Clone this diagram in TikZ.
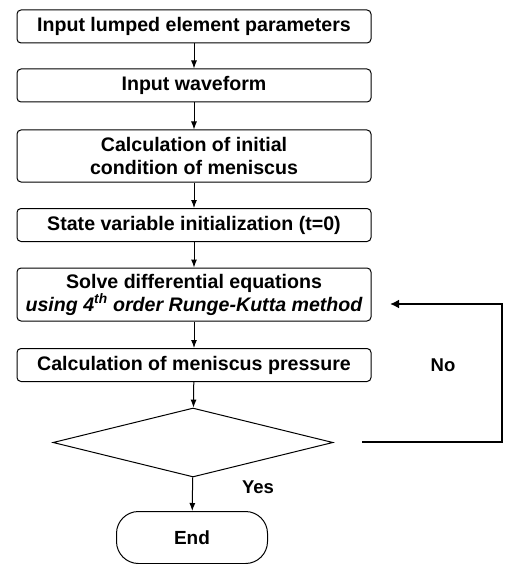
\documentclass[tikz,border=0pt]{standalone}
\usepackage{fontspec}
\setmainfont{Liberation Sans}
\usetikzlibrary{shapes.geometric,arrows.meta}

\tikzset{
  stepbox/.style={draw=black, line width=1pt, rounded corners=4pt,
    minimum width=354pt, minimum height=33pt, align=center, inner sep=0pt,
    font=\fontsize{19.6}{23}\selectfont\bfseries},
  flow/.style={draw=black, line width=1pt, -{Latex[length=8pt,width=6pt]}},
  loopline/.style={draw=black, line width=2.6pt, -{Latex[length=9pt,width=9pt]}},
  lbl/.style={font=\fontsize{18.5}{23}\selectfont\bfseries, inner sep=0pt}
}

\begin{document}
\begin{tikzpicture}[x=1pt, y=-1pt]
  \useasboundingbox (0,0) rectangle (504,564);
  % process boxes
  \node[stepbox] (lumped) at (194,26.5) {Input lumped element parameters};
  \node[stepbox] (wave) at (194,85.5) {Input waveform};
  \node[stepbox, minimum height=52pt] (initcond) at (194,156)
    {Calculation of initial\\condition of meniscus};
  \node[stepbox] (stateinit) at (194,225) {State variable initialization (t=0)};
  \node[stepbox, minimum height=53pt] (solve) at (194,294.5)
    {Solve differential equations\\\itshape using 4\textsuperscript{th} order Runge-Kutta method};
  \node[stepbox] (pressure) at (194,365) {Calculation of meniscus pressure};
  % decision and end
  \node[draw=black, line width=1pt, diamond, aspect=4.06, inner sep=0pt,
    minimum width=280pt, minimum height=69pt] (check) at (193,442.5) {};
  \node[draw=black, line width=1pt, rounded corners=22pt, minimum width=151pt,
    minimum height=52pt, font=\fontsize{19}{23}\selectfont\bfseries] (finish) at (192,537.5) {End};%
  % connectors
  \draw[flow] (lumped) -- (wave);
  \draw[flow] (wave) -- (initcond);
  \draw[flow] (initcond) -- (stateinit);
  \draw[flow] (stateinit) -- (solve);
  \draw[flow] (solve) -- (pressure);
  \draw[flow] (pressure) -- (check);
  \draw[flow] (check) -- (finish);
  % loop back
  \coordinate (loopin) at (362,442);
  \coordinate (loopout) at (390,304);
  \draw[loopline] (loopin) -- ++(140,0) |- (loopout);
  \node[lbl] (nolbl) at (443,365) {No};
  \node[lbl] (yeslbl) at (258,487) {Yes};
\end{tikzpicture}
\end{document}
